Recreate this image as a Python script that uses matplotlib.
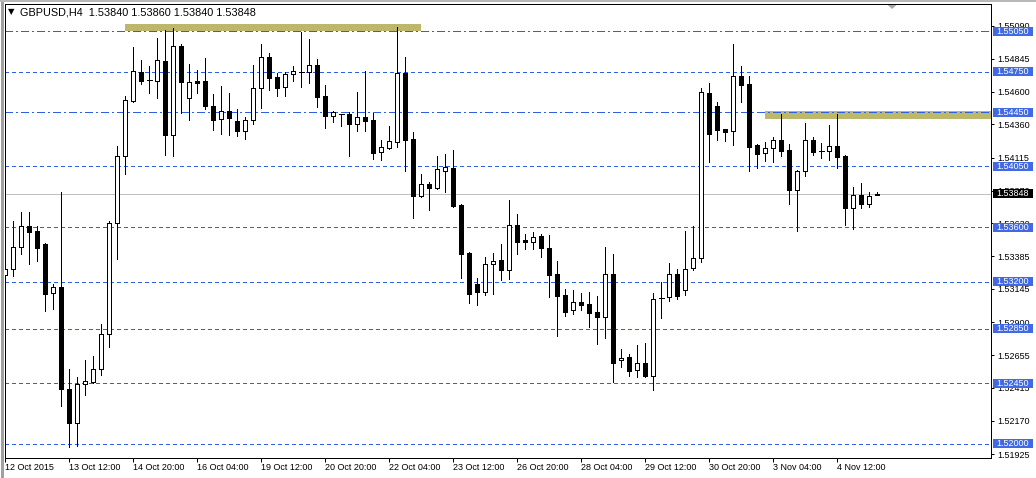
import matplotlib
matplotlib.use("Agg")
import matplotlib.pyplot as plt
import matplotlib.transforms as mtransforms
from matplotlib.patches import Rectangle
from matplotlib.lines import Line2D

plt.rcParams['font.family'] = ['Liberation Sans', 'DejaVu Sans']

symbol = "GBPUSD,H4"

# H4 candles (O, H, L, C)
opens = [1.53248, 1.53292, 1.53455, 1.53610, 1.53573, 1.53477, 1.53115, 1.53159, 1.52406, 1.52155,
         1.52443, 1.52458, 1.52554, 1.52812, 1.53632, 1.54127, 1.54533, 1.54747, 1.54685, 1.54681,
         1.54828, 1.54282, 1.54939, 1.54555, 1.54681, 1.54681, 1.54496, 1.54400, 1.54459, 1.54385,
         1.54311, 1.54393, 1.54629, 1.54858, 1.54710, 1.54636, 1.54732, 1.54747, 1.54747, 1.54799,
         1.54570, 1.54422, 1.54437, 1.54437, 1.54363, 1.54415, 1.54393, 1.54156, 1.54186, 1.54230,
         1.54740, 1.54252, 1.53831, 1.53920, 1.53890, 1.54016, 1.54038, 1.53765, 1.53410, 1.53181,
         1.53122, 1.53329, 1.53359, 1.53285, 1.53617, 1.53506, 1.53492, 1.53536, 1.53447, 1.53255,
         1.53100, 1.52989, 1.53048, 1.53034, 1.52975, 1.52938, 1.53255, 1.52620, 1.52642, 1.52546,
         1.52598, 1.52502, 1.53078, 1.53085, 1.53255, 1.53137, 1.53300, 1.53373, 1.54592, 1.54496,
         1.54326, 1.54311, 1.54718, 1.54659, 1.54208, 1.54149, 1.54186, 1.54245, 1.54171, 1.53876,
         1.54016, 1.54245, 1.54164, 1.54164, 1.54201, 1.54127, 1.53743, 1.53839, 1.53772, 1.53840]
highs = [1.53351, 1.53647, 1.53713, 1.53713, 1.53610, 1.53484, 1.53181, 1.53861, 1.52554, 1.52494,
         1.52620, 1.52650, 1.52886, 1.53647, 1.54201, 1.54570, 1.54932, 1.54836, 1.54792, 1.54998,
         1.55057, 1.55072, 1.54954, 1.54806, 1.54762, 1.54851, 1.54585, 1.54644, 1.54592, 1.54474,
         1.54415, 1.54799, 1.54954, 1.54888, 1.54740, 1.54747, 1.54792, 1.55043, 1.54991, 1.54843,
         1.54651, 1.54459, 1.54440, 1.54452, 1.54599, 1.54755, 1.54444, 1.54245, 1.54348, 1.55080,
         1.54858, 1.54304, 1.53994, 1.53935, 1.54127, 1.54142, 1.54171, 1.53770, 1.53415, 1.53226,
         1.53381, 1.53410, 1.53477, 1.53802, 1.53698, 1.53551, 1.53565, 1.53551, 1.53543, 1.53351,
         1.53144, 1.53137, 1.53115, 1.53122, 1.53093, 1.53455, 1.53403, 1.52701, 1.52664, 1.52731,
         1.52746, 1.53115, 1.53196, 1.53336, 1.53292, 1.53573, 1.53610, 1.54629, 1.54666, 1.54526,
         1.54326, 1.54954, 1.54792, 1.54718, 1.54215, 1.54230, 1.54267, 1.54437, 1.54215, 1.54023,
         1.54370, 1.54267, 1.54223, 1.54356, 1.54437, 1.54134, 1.53898, 1.53927, 1.53861, 1.53860]
lows = [1.53181, 1.53240, 1.53403, 1.53329, 1.53351, 1.52982, 1.52997, 1.52280, 1.51977, 1.51985,
        1.52362, 1.52450, 1.52509, 1.52716, 1.53366, 1.53994, 1.54526, 1.54659, 1.54592, 1.54555,
        1.54134, 1.54127, 1.54444, 1.54393, 1.54592, 1.54474, 1.54319, 1.54289, 1.54282, 1.54274,
        1.54252, 1.54363, 1.54481, 1.54614, 1.54570, 1.54570, 1.54681, 1.54636, 1.54666, 1.54489,
        1.54334, 1.54378, 1.54348, 1.54127, 1.54311, 1.54311, 1.54105, 1.54097, 1.54180, 1.54193,
        1.54016, 1.53669, 1.53824, 1.53728, 1.53885, 1.53861, 1.53752, 1.53226, 1.53041, 1.53026,
        1.53100, 1.53108, 1.53211, 1.53218, 1.53403, 1.53440, 1.53440, 1.53381, 1.53085, 1.52797,
        1.52945, 1.52960, 1.52989, 1.52864, 1.52738, 1.52783, 1.52458, 1.52568, 1.52502, 1.52494,
        1.52494, 1.52398, 1.52930, 1.53056, 1.53071, 1.53100, 1.53285, 1.53344, 1.54082, 1.54245,
        1.54238, 1.54208, 1.54526, 1.54016, 1.54038, 1.54090, 1.54082, 1.54127, 1.53772, 1.53573,
        1.53979, 1.54134, 1.54112, 1.54097, 1.54038, 1.53617, 1.53588, 1.53743, 1.53750, 1.53840]
closes = [1.53292, 1.53455, 1.53610, 1.53565, 1.53447, 1.53108, 1.53159, 1.52406, 1.52155, 1.52443,
          1.52465, 1.52554, 1.52812, 1.53632, 1.54127, 1.54540, 1.54755, 1.54681, 1.54685, 1.54836,
          1.54282, 1.54939, 1.54673, 1.54673, 1.54666, 1.54496, 1.54393, 1.54459, 1.54407, 1.54311,
          1.54393, 1.54629, 1.54858, 1.54703, 1.54629, 1.54732, 1.54755, 1.54747, 1.54799, 1.54563,
          1.54422, 1.54452, 1.54437, 1.54363, 1.54415, 1.54385, 1.54149, 1.54193, 1.54238, 1.54740,
          1.54245, 1.53831, 1.53920, 1.53890, 1.54031, 1.54046, 1.53757, 1.53403, 1.53108, 1.53122,
          1.53329, 1.53351, 1.53285, 1.53617, 1.53492, 1.53492, 1.53529, 1.53447, 1.53248, 1.53093,
          1.52975, 1.53048, 1.53026, 1.52967, 1.52938, 1.53255, 1.52598, 1.52635, 1.52539, 1.52598,
          1.52502, 1.53071, 1.53078, 1.53255, 1.53093, 1.53292, 1.53373, 1.54599, 1.54289, 1.54319,
          1.54304, 1.54718, 1.54651, 1.54193, 1.54142, 1.54186, 1.54245, 1.54164, 1.53876, 1.54016,
          1.54245, 1.54156, 1.54164, 1.54201, 1.54119, 1.53743, 1.53839, 1.53772, 1.53831, 1.53848]

time_labels = ["12 Oct 2015", "13 Oct 12:00", "14 Oct 20:00", "16 Oct 04:00", "19 Oct 12:00",
               "20 Oct 20:00", "22 Oct 04:00", "23 Oct 12:00", "26 Oct 20:00", "28 Oct 04:00",
               "29 Oct 12:00", "30 Oct 20:00", "3 Nov 04:00", "4 Nov 12:00"]
time_label_bars = [0, 8, 16, 24, 32, 40, 48, 56, 64, 72, 80, 88, 96, 104]

price_ticks = [1.55090, 1.54845, 1.54600, 1.54360, 1.54115, 1.53870, 1.53630,
               1.53385, 1.53145, 1.52900, 1.52655, 1.52415, 1.52170, 1.51925]

levels_dashed = [1.5475, 1.5405, 1.5360, 1.5320, 1.5285, 1.5245, 1.5200]
levels_dashdot = [1.5505, 1.5445]
bid = 1.53848

# resistance zones: (from bar, to bar, low, high)
zones = [(15, 52, 1.5505, 1.5510), (95, 140, 1.5440, 1.5446)]

W, H = 1036, 478
L_PX, R_PX, T_PX, B_PX = 4.5, 991, 4, 458
ymin, ymax = 1.518966, 1.552494
xmin, xmax = -0.1, 123.2
py = (ymax - ymin) / (B_PX - T_PX)   # price per pixel
px = (xmax - xmin) / (R_PX - L_PX)   # bars per pixel

blue = '#2F5FE3'
box_blue = '#4169E1'
lw1 = 0.72

fig = plt.figure(figsize=(W / 100, H / 100), dpi=100)
fig.patch.set_facecolor('white')
ax = fig.add_axes([L_PX / W, 1 - B_PX / H, (R_PX - L_PX) / W, (B_PX - T_PX) / H])
ax.set_xlim(xmin, xmax)
ax.set_ylim(ymin, ymax)

# window frame
fig.add_artist(Line2D([1.5 / W, 1.5 / W], [0, 1], color='#A0A0A0', lw=3 * lw1))
fig.add_artist(Line2D([0, 1], [1 - 1 / H, 1 - 1 / H], color='#B8B8B8', lw=2 * lw1))

for z0, z1, lo, hi in zones:
    ax.add_patch(Rectangle((z0, lo), z1 - z0, hi - lo, facecolor='#BDB76B', lw=0, zorder=0.5))

for lv in levels_dashed:
    ax.axhline(lv, color=blue, lw=lw1, dashes=(3, 3), zorder=1, antialiased=False)
for lv in levels_dashdot:
    ax.axhline(lv, color=blue, lw=lw1, dashes=(8, 3, 2, 3), zorder=1, antialiased=False)
ax.axhline(bid, color='#C0C0C0', lw=lw1, zorder=1.5, antialiased=False)

# candles
bars = list(range(len(opens)))
ax.vlines(bars, lows, highs, color='black', lw=lw1, zorder=3, antialiased=False)
for i, o, c in zip(bars, opens, closes):
    if abs(c - o) < 3e-5:
        ax.hlines(o, i - 2.5 * px, i + 2.5 * px, color='black', lw=lw1, zorder=4, antialiased=False)
    else:
        fc = 'white' if c > o else 'black'
        ax.bar(i, abs(c - o), width=4 * px, bottom=min(o, c), facecolor=fc,
               edgecolor='black', lw=lw1, zorder=4, antialiased=False)

# chart shift marker
sx = (892 - 5.3) / 8
ax.fill([sx - 4.5 * px, sx + 4.5 * px, sx], [ymax - 1 * py, ymax - 1 * py, ymax - 5 * py],
        color='#A8A8A8', lw=0, zorder=5)

for s in ax.spines.values():
    s.set_color('black')
    s.set_linewidth(lw1)

ax.yaxis.tick_right()
ax.set_yticks(price_ticks)
ax.set_yticklabels([f"{v:.5f}" for v in price_ticks])
ax.tick_params(axis='y', direction='out', length=2.5, width=lw1, pad=2.2, labelsize=6.5, colors='black')
ax.set_xticks(time_label_bars)
ax.set_xticklabels(time_labels)
for lbl in ax.get_xticklabels():
    lbl.set_horizontalalignment('left')
ax.tick_params(axis='x', direction='out', length=3, width=lw1, pad=0.8, labelsize=6.5, colors='black')

# price labels on the right axis
trans = mtransforms.blended_transform_factory(ax.transAxes, ax.transData)
bx0 = (993 - L_PX) / (R_PX - L_PX)
bw = 40 / (R_PX - L_PX)
tx = (996.5 - L_PX) / (R_PX - L_PX)
for lv in levels_dashed + levels_dashdot:
    ax.add_patch(Rectangle((bx0, lv - 4.5 * py), bw, 9 * py, transform=trans, facecolor=box_blue,
                           lw=0, clip_on=False, zorder=6))
    ax.text(tx, lv, f"{lv:.5f}", transform=trans, color='white', fontsize=6.5, va='center',
            ha='left', clip_on=False, zorder=7)
ax.add_patch(Rectangle((bx0, bid - 4.5 * py), bw, 9 * py, transform=trans, facecolor='black',
                       lw=0, clip_on=False, zorder=6))
ax.text(tx, bid, f"{bid:.5f}", transform=trans, color='white', fontsize=6.5, va='center',
        ha='left', clip_on=False, zorder=7)

# header
fig.text(8 / W, 1 - 12 / H, "\u25bc", fontsize=6, family='DejaVu Sans', va='center', ha='left')
header = f"{symbol}  {opens[-1]:.5f} {highs[-1]:.5f} {lows[-1]:.5f} {closes[-1]:.5f}"
fig.text(20 / W, 1 - 12.5 / H, header, fontsize=7.8, va='center', ha='left')

fig.savefig("out.png", dpi=100)
